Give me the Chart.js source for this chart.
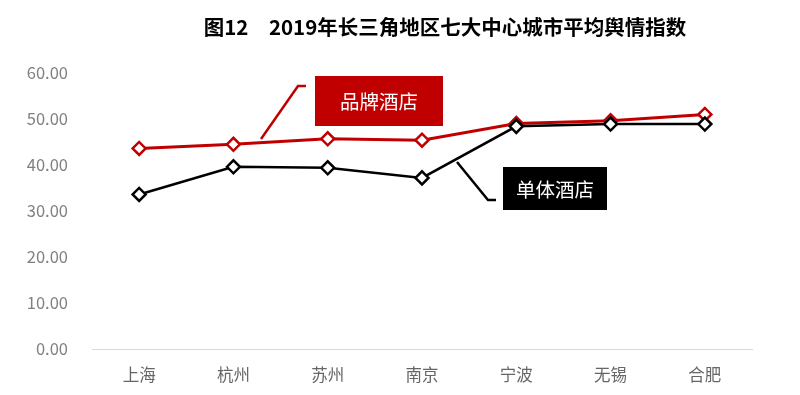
<!DOCTYPE html>
<html>
<head>
<meta charset="utf-8">
<script src="https://cdn.jsdelivr.net/npm/chart.js@4/dist/chart.umd.min.js"></script>
<style>
  html, body { margin: 0; padding: 0; background: #fff; }
  #wrap { width: 800px; height: 395px; }
</style>
</head>
<body>
<div id="wrap"><canvas id="c" width="800" height="395"></canvas></div>
<script>
const cities = ['上海', '杭州', '苏州', '南京', '宁波', '无锡', '合肥'];
const brandHotel = [43.6, 44.5, 45.7, 45.4, 49.0, 49.6, 51.0];
const singleHotel = [33.6, 39.6, 39.4, 37.2, 48.4, 48.9, 48.9];
const yTicks = [0, 10, 20, 30, 40, 50, 60];

const titleText = '图12　2019年长三角地区七大中心城市平均舆情指数';
const cjkFont = '"Noto Sans CJK SC", "Noto Sans", sans-serif';

// title + the two callout boxes with leader lines
const overlay = {
  id: 'overlay',
  afterDraw(chart) {
    const ctx = chart.ctx;
    ctx.save();
    ctx.fillStyle = '#000';
    ctx.font = 'bold 20.5px ' + cjkFont;
    ctx.textAlign = 'center';
    ctx.textBaseline = 'middle';
    ctx.fillText(titleText, 445, 27);

    const callouts = [
      { text: '品牌酒店', color: '#c00000', box: [315, 76, 128, 50], leader: [[261, 139], [298, 86], [306, 86]] },
      { text: '单体酒店', color: '#000000', box: [503, 167, 104, 43], leader: [[457, 162], [488, 200], [496, 200]] }
    ];
    callouts.forEach(c => {
      ctx.strokeStyle = c.color;
      ctx.lineWidth = 2.5;
      ctx.beginPath();
      c.leader.forEach((p, i) => i ? ctx.lineTo(p[0], p[1]) : ctx.moveTo(p[0], p[1]));
      ctx.stroke();
      const [x, y, w, h] = c.box;
      ctx.fillStyle = c.color;
      ctx.fillRect(x, y, w, h);
      ctx.fillStyle = '#fff';
      ctx.font = '19.5px ' + cjkFont;
      ctx.fillText(c.text, x + w / 2, y + h / 2 + 1);
    });
    ctx.restore();
  }
};

new Chart(document.getElementById('c').getContext('2d'), {
  type: 'line',
  data: {
    labels: cities,
    datasets: [
      {
        label: '单体酒店',
        data: singleHotel,
        borderColor: '#000000',
        borderWidth: 2.5,
        pointStyle: 'rectRot',
        pointRadius: 6.5,
        pointBorderWidth: 2.5,
        pointBackgroundColor: '#ffffff',
        pointBorderColor: '#000000',
        tension: 0,
        order: 0
      },
      {
        label: '品牌酒店',
        data: brandHotel,
        borderColor: '#c00000',
        borderWidth: 3,
        pointStyle: 'rectRot',
        pointRadius: 6.5,
        pointBorderWidth: 2.5,
        pointBackgroundColor: '#ffffff',
        pointBorderColor: '#c00000',
        tension: 0,
        order: 1
      }
    ]
  },
  options: {
    responsive: false,
    animation: false,
    layout: { padding: { top: 73, right: 48, left: 0, bottom: 0 } },
    plugins: {
      legend: { display: false },
      title: { display: false },
      tooltip: { enabled: false }
    },
    scales: {
      x: {
        offset: true,
        grid: { display: false, drawTicks: false },
        border: { display: true, color: '#d9d9d9', width: 1 },
        ticks: { color: '#666666', font: { family: cjkFont, size: 16.5 }, padding: 16 },
        afterFit: s => { s.height = 46; }
      },
      y: {
        min: 0,
        max: 60,
        afterBuildTicks: s => { s.ticks = yTicks.map(v => ({ value: v })); },
        grid: { display: false, drawTicks: false },
        border: { display: false },
        ticks: {
          color: '#808080',
          font: { family: cjkFont, size: 16.5 },
          padding: 24,
          callback: v => Number(v).toFixed(2)
        },
        afterFit: s => { s.width = 92; }
      }
    }
  },
  plugins: [overlay]
});
</script>
</body>
</html>
